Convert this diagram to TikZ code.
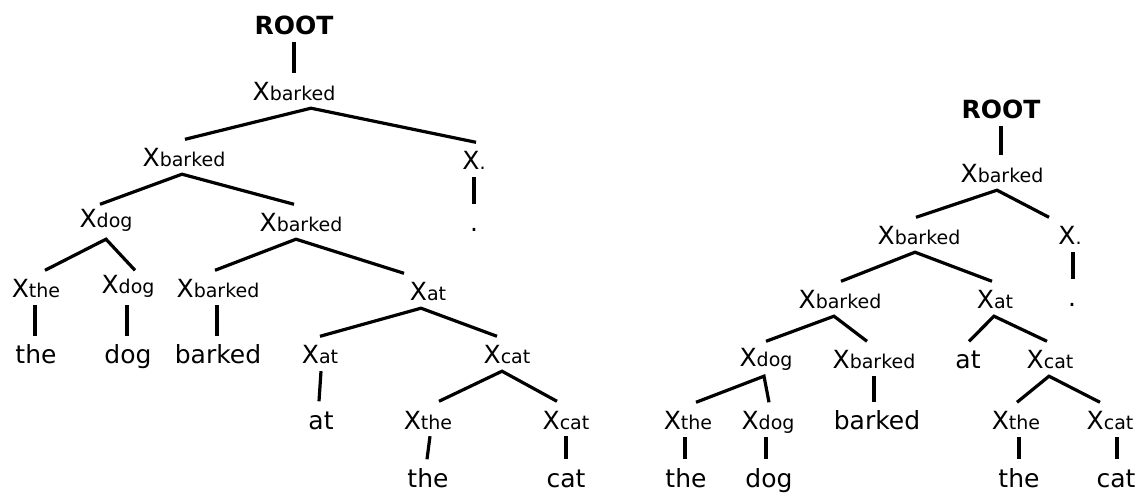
\documentclass[tikz,border=0pt]{standalone}
\usepackage{fontspec}
\setmainfont{DejaVu Sans}
% category symbol with its head word set smaller, on the same baseline
\newcommand\lsub[1]{{\fontsize{19}{22}\selectfont #1}}
\newcommand\xl[1]{X\lsub{#1}}
% a parent with two children: child1 <- apex below parent -> child2 (x offsets in pt)
\newcommand\treefork[6]{\draw[edge] ([xshift=#4pt]#3.north) -- ([xshift=#2pt]#1.south) -- ([xshift=#6pt]#5.north);}
% a parent with a single child
\newcommand\treestem[4]{\draw[edge] ([xshift=#2pt]#1.south) -- ([xshift=#4pt]#3.north);}

\begin{document}
\begin{tikzpicture}[x=1pt,y=-1pt,
  lbl/.style={anchor=base, inner xsep=0pt, inner ysep=7pt, text height=20.5pt,
              text depth=0pt, font=\fontsize{25}{30}\selectfont, text=black},
  bottomword/.style={lbl, inner ysep=3pt, text height=24.5pt},
  edge/.style={line width=3.2pt, black}]
\useasboundingbox (0,0) rectangle (1136,494);

% ---------------- left tree ----------------
\node[lbl] (t0)  at (294,35)  {\textbf{ROOT}};
\node[lbl] (t1)  at (294,101) {\xl{barked}};
\node[lbl] (t2)  at (184,167) {\xl{barked}};
\node[lbl] (t3)  at (474,170) {\xl{.}};
\node[lbl] (t4)  at (474,232) {.};
\node[lbl] (t5)  at (106,232) {\raisebox{4pt}{\xl{dog}}};
\node[lbl] (t6)  at (301,232) {\xl{barked}};
\node[lbl] (t7)  at (36,298)  {\xl{the}};
\node[lbl] (t8)  at (128,298) {\raisebox{4pt}{\xl{dog}}};
\node[lbl] (t9)  at (218,298) {\xl{barked}};
\node[lbl] (t10) at (428,301) {\xl{at}};
\node[lbl] (w1)  at (36,364)  {the};
\node[lbl] (w2)  at (128,364) {dog};
\node[lbl] (w3)  at (218,364) {barked};
\node[lbl] (t11) at (320,364) {\xl{at}};
\node[lbl] (t12) at (507,364) {\xl{cat}};
\node[lbl] (w4)  at (321,429) {at};
\node[lbl] (t13) at (428,429) {\xl{the}};
\node[lbl] (t14) at (566,429) {\xl{cat}};
\node[bottomword] (w5)  at (428,487) {the};
\node[bottomword] (w6)  at (566,487) {cat};

\treestem{t0}{0}{t1}{0}
\treefork{t1}{17}{t2}{1}{t3}{2}
\treestem{t3}{0}{t4}{0}
\treefork{t2}{-2}{t5}{-6}{t6}{-7}
\treefork{t5}{0}{t7}{9}{t8}{7}
\treefork{t6}{-5}{t9}{-3}{t10}{-24}
\treestem{t7}{-1}{w1}{-1}
\treestem{t8}{-1}{w2}{-1}
\treestem{t9}{-1}{w3}{-1}
\treefork{t10}{-7}{t11}{0}{t12}{-10}
\treestem{t11}{1}{w4}{-2}
\treefork{t12}{-5}{t13}{11}{t14}{-9}
\treestem{t13}{2}{w5}{-1}
\treestem{t14}{0}{w6}{0}

% ---------------- right tree ----------------
\node[lbl] (r0)  at (1001,119) {\textbf{ROOT}};
\node[lbl] (r1)  at (1002,183) {\xl{barked}};
\node[lbl] (r2)  at (919,245)  {\xl{barked}};
\node[lbl] (r3)  at (1070,245) {\xl{.}};
\node[lbl] (r4)  at (1072,307) {.};
\node[lbl] (r5)  at (840,309)  {\xl{barked}};
\node[lbl] (r6)  at (995,309)  {\xl{at}};
\node[lbl] (r7)  at (766,369)  {\raisebox{2pt}{\xl{dog}}};
\node[lbl] (r8)  at (874,369)  {\xl{barked}};
\node[lbl] (r9)  at (968,369)  {at};
\node[lbl] (r10) at (1050,369) {\xl{cat}};
\node[lbl] (r11) at (688,430)  {\xl{the}};
\node[lbl] (r12) at (768,430)  {\xl{dog}};
\node[lbl] (r13) at (877,430)  {barked};
\node[lbl] (r14) at (1016,430) {\xl{the}};
\node[lbl] (r15) at (1110,430) {\xl{cat}};
\node[bottomword] (v1)  at (686,487)  {the};
\node[bottomword] (v2)  at (769,487)  {dog};
\node[bottomword] (v3)  at (1019,487) {the};
\node[bottomword] (v4)  at (1116,487) {cat};

\treestem{r0}{0}{r1}{-1}
\treefork{r1}{-5}{r2}{-3}{r3}{-21}
\treestem{r3}{3}{r4}{1}
\treefork{r2}{-4}{r5}{1}{r6}{-3}
\treefork{r5}{-6}{r7}{0}{r8}{-7}
\treefork{r6}{-1}{r9}{1}{r10}{-3}
\treefork{r7}{-2}{r11}{8}{r12}{1}
\treestem{r8}{0}{r13}{-3}
\treefork{r10}{-1}{r14}{1}{r15}{-10}
\treestem{r11}{-3}{v1}{-1}
\treestem{r12}{-2}{v2}{-3}
\treestem{r14}{3}{v3}{0}
\treestem{r15}{7}{v4}{1}
\end{tikzpicture}
\end{document}
